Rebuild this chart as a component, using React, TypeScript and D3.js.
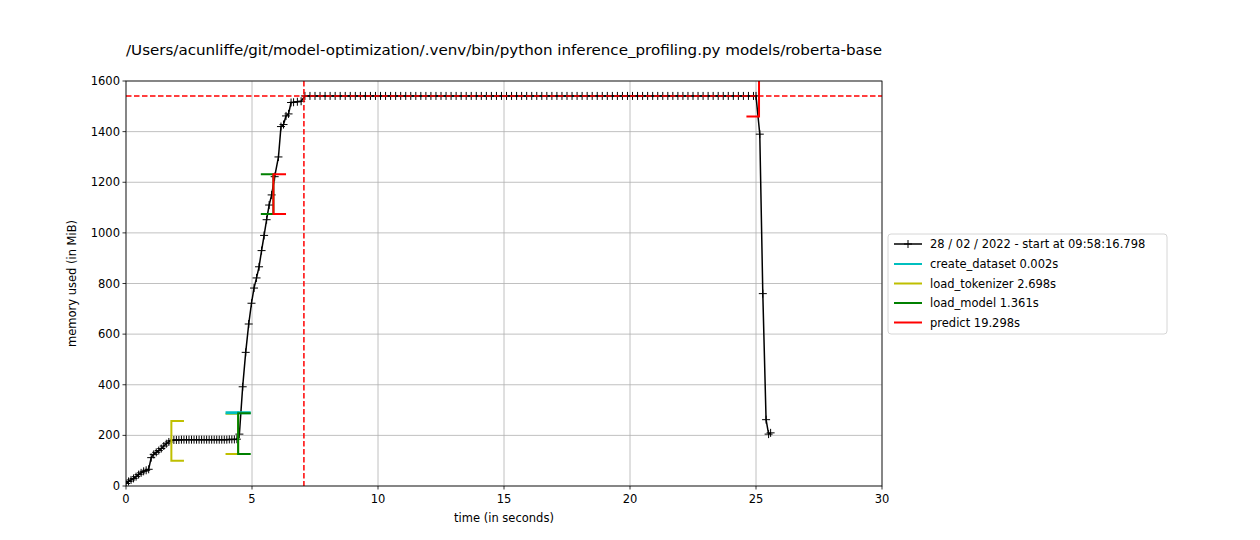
import React from 'react';
import * as d3 from 'd3';

const title = '/Users/acunliffe/git/model-optimization/.venv/bin/python inference_profiling.py models/roberta-base';

// samples (seconds, MiB)
const rampTimes = [0, 0.1, 0.2, 0.3, 0.4, 0.5, 0.6, 0.7, 0.8, 0.9, 1.0, 1.1, 1.2, 1.3, 1.4, 1.5, 1.6, 1.7,
  1.8, 1.9, 2.0, 2.1, 2.2, 2.3, 2.4, 2.5, 2.6, 2.7, 2.8, 2.9, 3.0, 3.1, 3.2, 3.3, 3.4, 3.5, 3.6, 3.7, 3.8, 3.9, 4.0, 4.1, 4.2, 4.3, 4.4,
  4.5, 4.63, 4.75, 4.87, 4.98, 5.08, 5.18, 5.28, 5.38, 5.48, 5.58, 5.68, 5.78, 5.9, 6.05, 6.15, 6.25, 6.35, 6.45, 6.55, 6.65, 6.8, 6.95];
const rampMem = [10, 18, 24, 30, 37, 45, 52, 58, 62, 66, 112, 125, 133, 140, 148, 158, 167, 174,
  180, 182, 182, 182, 183, 183, 183, 183, 183, 183, 183, 183, 183, 183, 183, 183, 183, 183, 183, 183, 183, 183, 183, 184, 184, 184, 185,
  205, 392, 528, 640, 722, 782, 822, 866, 930, 990, 1052, 1110, 1150, 1222, 1300, 1420, 1428, 1462, 1470, 1515, 1516, 1518, 1520];
const plateauTimes = [7.1, 7.3, 7.5, 7.7, 7.9, 8.1, 8.3, 8.5, 8.7, 8.9, 9.1, 9.3, 9.5, 9.7, 9.9, 10.1, 10.3, 10.5, 10.7, 10.9,
  11.1, 11.3, 11.5, 11.7, 11.9, 12.1, 12.3, 12.5, 12.7, 12.9, 13.1, 13.3, 13.5, 13.7, 13.9, 14.1, 14.3, 14.5, 14.7, 14.9,
  15.1, 15.3, 15.5, 15.7, 15.9, 16.1, 16.3, 16.5, 16.7, 16.9, 17.1, 17.3, 17.5, 17.7, 17.9, 18.1, 18.3, 18.5, 18.7, 18.9,
  19.1, 19.3, 19.5, 19.7, 19.9, 20.1, 20.3, 20.5, 20.7, 20.9, 21.1, 21.3, 21.5, 21.7, 21.9, 22.1, 22.3, 22.5, 22.7, 22.9,
  23.1, 23.3, 23.5, 23.7, 23.9, 24.1, 24.3, 24.5, 24.7, 24.9, 25.0];
const plateauMem = [1541, 1541, 1541, 1541, 1541, 1541, 1541, 1541, 1541, 1541, 1541, 1541, 1541, 1541, 1541, 1541, 1541, 1541, 1541, 1541,
  1541, 1541, 1541, 1541, 1541, 1541, 1541, 1541, 1541, 1541, 1541, 1541, 1541, 1541, 1541, 1541, 1541, 1541, 1541, 1541,
  1541, 1541, 1541, 1541, 1541, 1541, 1541, 1541, 1541, 1541, 1541, 1541, 1541, 1541, 1541, 1541, 1541, 1541, 1541, 1541,
  1541, 1541, 1541, 1541, 1541, 1541, 1541, 1541, 1541, 1541, 1541, 1541, 1541, 1541, 1541, 1541, 1541, 1541, 1541, 1541,
  1541, 1541, 1541, 1541, 1541, 1541, 1541, 1541, 1541, 1541, 1541];
const tailTimes = [25.15, 25.27, 25.4, 25.5, 25.58];
const tailMem = [1390, 760, 262, 205, 210];

const times = [...rampTimes, ...plateauTimes, ...tailTimes];
const mem = [...rampMem, ...plateauMem, ...tailMem];

// function brackets
const funcNames = ['load_tokenizer', 'create_dataset', 'load_model', 'predict'];
const funcColors = ['#bfbf00', '#00bfbf', '#008000', '#ff0000'];
const funcStart = [1.8, 4.448, 4.45, 5.85];
const funcStartRange = [[100, 257], [287, 291], [126, 287], [1075, 1232]];
const funcEnd = [4.45, 4.45, 5.85, 25.12];
const funcEndRange = [[126, 285], [287, 291], [1075, 1232], [1460, 1625]];

const legendLabels = ['create_dataset 0.002s', 'load_tokenizer 2.698s', 'load_model 1.361s', 'predict 19.298s'];
const legendColors = ['#00bfbf', '#bfbf00', '#008000', '#ff0000'];

const peakMem = 1541;
const peakTime = 7.06;
const legendMain = '28 / 02 / 2022 - start at 09:58:16.798';

const xTicks = [0, 5, 10, 15, 20, 25, 30];
const yTicks = [0, 200, 400, 600, 800, 1000, 1200, 1400, 1600];

const W = 1260, H = 540;
const L = 126, R = 882, T = 81, B = 486;

const App: React.FC = () => {
  const x = d3.scaleLinear().domain([0, 30]).range([L, R]);
  const y = d3.scaleLinear().domain([0, 1600]).range([B, T]);
  const line = d3.line<number>().x((_, i) => x(times[i])).y(d => y(d));
  const bw = x(0.5) - x(0);
  const font = 'DejaVu Sans, sans-serif';

  return (
    <svg width={W} height={H} style={{ position: 'absolute', left: 0, top: 0, fontFamily: font }}>
      <rect width={W} height={H} fill="#fff" />
      <defs>
        <clipPath id="plot"><rect x={L} y={T} width={R - L} height={B - T} /></clipPath>
      </defs>
      {xTicks.map(t => <line key={'gx' + t} x1={x(t)} x2={x(t)} y1={T} y2={B} stroke="#b0b0b0" strokeWidth={0.8} />)}
      {yTicks.map(t => <line key={'gy' + t} x1={L} x2={R} y1={y(t)} y2={y(t)} stroke="#b0b0b0" strokeWidth={0.8} />)}
      <g clipPath="url(#plot)">
        <path d={line(mem) || ''} fill="none" stroke="#000" strokeWidth={1.5} />
        {mem.map((m, i) => (
          <path key={'m' + i} d={`M${x(times[i]) - 4},${y(m)}h8M${x(times[i])},${y(m) - 4}v8`} stroke="#000" strokeWidth={1} />
        ))}
        {funcNames.map((n, i) => {
          const xs = x(funcStart[i]), xe = x(funcEnd[i]);
          const [s0, s1] = funcStartRange[i];
          const [e0, e1] = funcEndRange[i];
          return (
            <g key={n} stroke={funcColors[i]} strokeWidth={2} fill="none">
              <path d={`M${xs + bw},${y(s1)}H${xs}V${y(s0)}H${xs + bw}`} />
              <path d={`M${xe - bw},${y(e1)}H${xe}V${y(e0)}H${xe - bw}`} />
            </g>
          );
        })}
        <line x1={L} x2={R} y1={y(peakMem)} y2={y(peakMem)} stroke="#ff0000" strokeWidth={1.5} strokeDasharray="5.5,2.5" />
        <line x1={x(peakTime)} x2={x(peakTime)} y1={T} y2={B} stroke="#ff0000" strokeWidth={1.5} strokeDasharray="5.5,2.5" />
      </g>
      <rect x={L} y={T} width={R - L} height={B - T} fill="none" stroke="#000" strokeWidth={0.8} />
      {xTicks.map(t => (
        <g key={'xt' + t}>
          <line x1={x(t)} x2={x(t)} y1={B} y2={B + 3.5} stroke="#000" strokeWidth={0.8} />
          <text x={x(t)} y={B + 17} fontSize={11.5} textAnchor="middle">{t}</text>
        </g>
      ))}
      {yTicks.map(t => (
        <g key={'yt' + t}>
          <line x1={L - 3.5} x2={L} y1={y(t)} y2={y(t)} stroke="#000" strokeWidth={0.8} />
          <text x={L - 6} y={y(t) + 4} fontSize={11.5} textAnchor="end">{t}</text>
        </g>
      ))}
      <text x={(L + R) / 2} y={522} fontSize={11.5} textAnchor="middle">time (in seconds)</text>
      <text transform={`translate(76,${(T + B) / 2}) rotate(-90)`} fontSize={11.5} textAnchor="middle">memory used (in MiB)</text>
      <text x={(L + R) / 2} y={55} fontSize={14} textAnchor="middle" textLength={756} lengthAdjust="spacingAndGlyphs">{title}</text>
      <g transform="translate(888,234)">
        <rect width={279} height={100} rx={3} fill="#fff" stroke="#ccc" strokeWidth={0.8} />
        <line x1={6} x2={34} y1={10} y2={10} stroke="#000" strokeWidth={1.5} />
        <path d="M16,10h8M20,6v8" stroke="#000" strokeWidth={1} />
        <text x={42} y={14} fontSize={11.5}>{legendMain}</text>
        {legendLabels.map((lab, i) => (
          <g key={lab} transform={`translate(0,${30 + i * 19.5})`}>
            <line x1={6} x2={34} y1={0} y2={0} stroke={legendColors[i]} strokeWidth={2} />
            <text x={42} y={4} fontSize={11.5}>{lab}</text>
          </g>
        ))}
      </g>
    </svg>
  );
};

export default App;
